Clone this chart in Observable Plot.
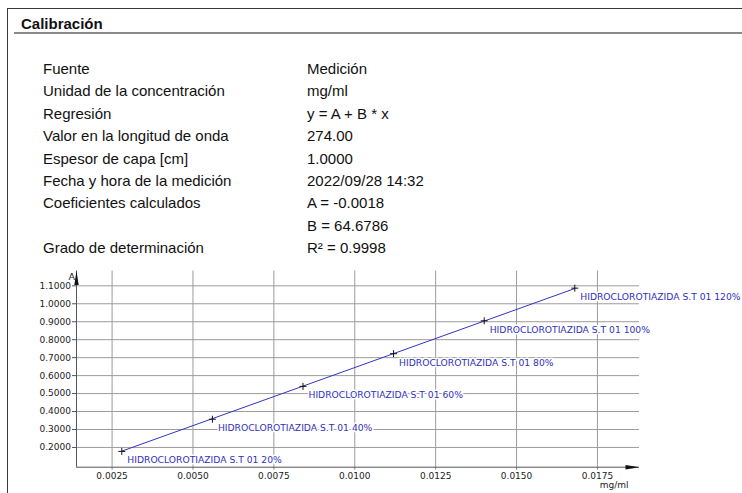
<!DOCTYPE html>
<html>
<head>
<meta charset="utf-8">
<script src="https://cdn.jsdelivr.net/npm/d3@7"></script>
<script src="https://cdn.jsdelivr.net/npm/@observablehq/plot@0.6"></script>
<style>
  html, body { margin: 0; padding: 0; background: #fff; }
  #page { position: relative; width: 742px; height: 493px; overflow: hidden; background: #fff; }
  #frame { position: absolute; left: 7px; top: 8px; width: 800px; height: 600px;
           border-top: 1.5px solid #3a3a3a; border-left: 1.5px solid #3a3a3a; }
  #title { position: absolute; left: 21px; top: 14px; font: bold 15px "Liberation Sans", Arial, sans-serif; color: #111; line-height: 20px; }
  #rule { position: absolute; left: 14px; top: 32px; width: 740px; height: 0; border-top: 2px solid #8a8a8a; }
  .row { position: absolute; font: 15px "Liberation Sans", Arial, sans-serif; color: #111; line-height: 22.4px; white-space: nowrap; }
  .k { left: 43px; }
  .v { left: 307px; }
  #chart { position: absolute; left: 0; top: 255px; }
</style>
</head>
<body>
<div id="page">
  <div id="frame"></div>
  <div id="title">Calibración</div>
  <div id="rule"></div>
  <div id="info"></div>
  <div id="chart"></div>
</div>
<script>
// Calibration settings shown in the header table
const infoKeys = ["Fuente", "Unidad de la concentración", "Regresión", "Valor en la longitud de onda",
  "Espesor de capa [cm]", "Fecha y hora de la medición", "Coeficientes calculados", "", "Grado de determinación"];
const infoValues = ["Medición", "mg/ml", "y = A + B * x", "274.00", "1.0000", "2022/09/28 14:32",
  "A = -0.0018", "B = 64.6786", "R² = 0.9998"];

// Regression coefficients
const coefA = -0.0018;
const coefB = 64.6786;

// Standards: concentration (mg/ml) and measured absorbance
const levels = ["20%", "40%", "60%", "80%", "100%", "120%"];
const concentrations = [0.0028, 0.0056, 0.0084, 0.0112, 0.0140, 0.0168];
const absorbances = [0.178, 0.357, 0.540, 0.722, 0.905, 1.087];
const samplePrefix = "HIDROCLOROTIAZIDA S.T 01 ";

// Axis ticks
const xTicks = [0.0025, 0.0050, 0.0075, 0.0100, 0.0125, 0.0150, 0.0175];
const yTicks = [0.2, 0.3, 0.4, 0.5, 0.6, 0.7, 0.8, 0.9, 1.0, 1.1];
const xDomain = [0.0014, 0.0188];
const yDomain = [0.09, 1.1825];

// header table
const info = document.getElementById("info");
infoKeys.forEach((k, i) => {
  const top = 58 + 22.4 * i;
  const kd = document.createElement("div");
  kd.className = "row k"; kd.style.top = top + "px"; kd.textContent = k;
  const vd = document.createElement("div");
  vd.className = "row v"; vd.style.top = top + "px"; vd.textContent = infoValues[i];
  info.append(kd, vd);
});

const points = concentrations.map((c, i) => ({c, a: absorbances[i], label: samplePrefix + levels[i]}));
const cMin = d3.min(concentrations), cMax = d3.max(concentrations);
const fit = [cMin, cMax].map(c => ({c, a: coefA + coefB * c}));

// thin "+" marker
const plusSymbol = {
  draw(context, size) {
    const r = Math.sqrt(size / Math.PI);
    context.moveTo(-r, 0); context.lineTo(r, 0);
    context.moveTo(0, -r); context.lineTo(0, r);
  }
};
// narrow filled arrow head, tip at the anchor point
const arrowSymbol = {
  draw(context) {
    context.moveTo(0, 0); context.lineTo(-2.2, 14); context.lineTo(2.2, 14); context.closePath();
  }
};

const fmt = d3.format(".4f");
const chart = Plot.plot({
  width: 742,
  height: 238,
  marginLeft: 76,
  marginRight: 103,
  marginTop: 15.5,
  marginBottom: 26.3,
  style: {background: "none", fontFamily: "'DejaVu Sans', sans-serif", fontSize: "9px", color: "#222", overflow: "visible"},
  x: {domain: xDomain},
  y: {domain: yDomain},
  marks: [
    Plot.gridY(yTicks, {stroke: "#9c9c9c", strokeOpacity: 1}),
    Plot.gridX(xTicks, {stroke: "#9c9c9c", strokeOpacity: 1}),
    Plot.axisY(yTicks, {tickFormat: fmt, tickSize: 4, tickPadding: 1.5, label: null, stroke: "#555"}),
    Plot.axisX(xTicks, {tickFormat: fmt, tickSize: 3, tickPadding: 2.5, label: null, stroke: "#888"}),
    Plot.ruleX([xDomain[0]], {stroke: "#555"}),
    Plot.ruleY([yDomain[0]], {stroke: "#555"}),
    Plot.dot([0], {frameAnchor: "top-left", symbol: arrowSymbol, fill: "#111", stroke: "none", r: 4}),
    Plot.dot([0], {frameAnchor: "bottom-right", symbol: arrowSymbol, fill: "#111", stroke: "none", r: 4, rotate: 90}),
    Plot.line(fit, {x: "c", y: "a", stroke: "#3434c4", strokeWidth: 1}),
    Plot.text(points, {x: "c", y: "a", text: "label", dx: 5.5, dy: 9, textAnchor: "start",
      fill: "#3030c0", stroke: "white", strokeWidth: 3, fontSize: 9.2}),
    Plot.dot(points, {x: "c", y: "a", symbol: plusSymbol, r: 3.5, fill: "none", stroke: "#111", strokeWidth: 1}),
    Plot.text(["A"], {frameAnchor: "top-left", dx: -8, dy: 2, text: d => d, fill: "#222", fontSize: 9.5}),
    Plot.text(["mg/ml"], {frameAnchor: "bottom-right", dx: -11, dy: 20.5, text: d => d, fill: "#222", fontSize: 9})
  ]
});
document.getElementById("chart").append(chart);
</script>
</body>
</html>
